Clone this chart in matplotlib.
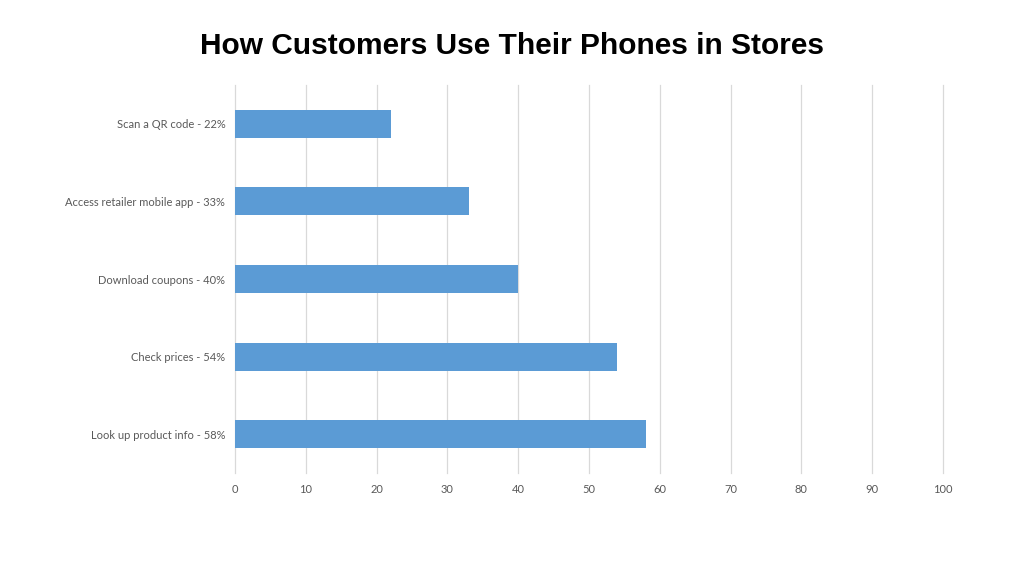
import matplotlib
matplotlib.use("Agg")
import matplotlib.pyplot as plt

# data (top to bottom as shown)
labels = ["Scan a QR code - 22%", "Access retailer mobile app - 33%",
          "Download coupons - 40%", "Check prices - 54%",
          "Look up product info - 58%"]
values = [22, 33, 40, 54, 58]
xticks = list(range(0, 101, 10))

plt.rcParams["font.family"] = ["Lato", "DejaVu Sans"]

fig = plt.figure(figsize=(10.24, 5.76), dpi=100)
ax = fig.add_axes([0.2295, 0.1788, 0.6914, 0.6736])

ypos = list(range(len(values)))
ax.barh(ypos, values, height=0.36, color="#5B9BD5", zorder=3)
ax.set_ylim(len(values) - 0.5, -0.5)
ax.set_xlim(0, 100)
ax.set_yticks(ypos)
ax.set_yticklabels(labels, fontsize=8, color="#595959")
ax.set_xticks(xticks)
ax.set_xticklabels([str(t) for t in xticks], fontsize=8, color="#595959")
ax.tick_params(axis="x", length=0, pad=8)
ax.tick_params(axis="y", length=0, pad=7)
for t in xticks:
    ax.axvline(t, color="#D9D9D9", lw=0.9, zorder=0, clip_on=False)
for s in ax.spines.values():
    s.set_visible(False)

fig.text(0.5, 0.92, "How Customers Use Their Phones in Stores",
         ha="center", va="center", fontsize=21.5, fontweight="bold",
         family=["Liberation Sans", "DejaVu Sans"])

fig.savefig("out.png", dpi=100)
